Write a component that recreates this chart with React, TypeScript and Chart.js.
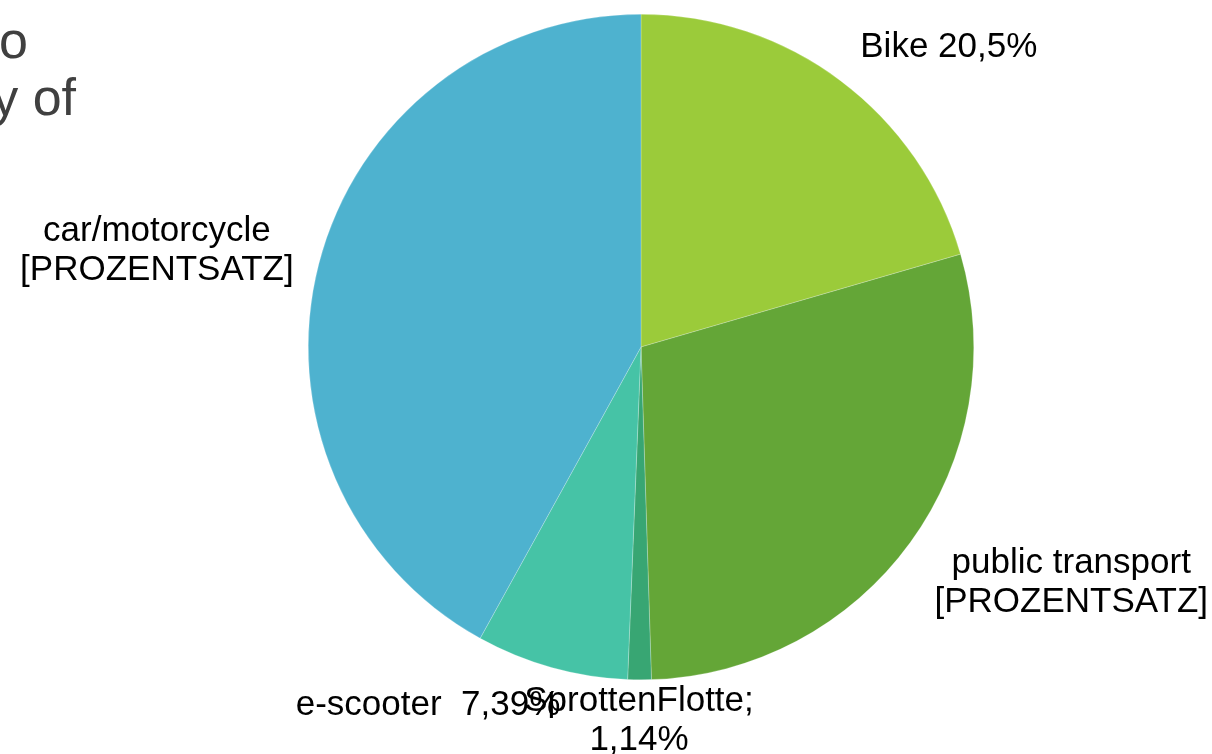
import React, { useEffect, useRef } from "react";
import { Chart, registerables } from "chart.js";

Chart.register(...registerables);

const categories = ["Bike", "public transport", "SprottenFlotte", "e-scooter", "car/motorcycle"];
const shares = [20.5, 29.0, 1.14, 7.39, 41.97];
const sliceLabels: string[][] = [
  ["Bike 20,5%"],
  ["public transport", "[PROZENTSATZ]"],
  ["SprottenFlotte;", "1,14%"],
  ["e-scooter  7,39%"],
  ["car/motorcycle", "[PROZENTSATZ]"],
];
const titleFragments = ["o", "y of"];

const colors = ["#9BCB3A", "#64A637", "#38A673", "#46C3A6", "#4EB2CF"];
// label placement relative to pie centre, in radius units
const labelOffsets = [
  [0.925, -0.9],
  [1.293, 0.709],
  [-0.006, 1.123],
  [-0.64, 1.078],
  [-1.455, -0.288],
];

const FONT = "35px 'Liberation Sans', Arial, sans-serif";
const LINE_H = 39;

const labelPlugin = {
  id: "sliceLabels",
  afterDraw(chart: any) {
    const ctx = chart.ctx;
    const meta = chart.getDatasetMeta(0);
    const arc0 = meta.data[0];
    if (!arc0) return;
    const cx = arc0.x;
    const cy = arc0.y;
    const r = arc0.outerRadius;
    ctx.save();
    ctx.fillStyle = "#000000";
    ctx.font = FONT;
    ctx.textAlign = "center";
    ctx.textBaseline = "middle";
    sliceLabels.forEach((lines, i) => {
      const [fx, fy] = labelOffsets[i];
      const x = cx + fx * r;
      const yc = cy + fy * r;
      const y0 = yc - ((lines.length - 1) * LINE_H) / 2;
      lines.forEach((ln, j) => ctx.fillText(ln, x, y0 + j * LINE_H));
    });
    // clipped title at top-left
    ctx.fillStyle = "#404040";
    ctx.font = "52px 'Liberation Sans', Arial, sans-serif";
    ctx.textAlign = "right";
    ctx.textBaseline = "alphabetic";
    ctx.fillText(titleFragments[0], 28, 58);
    ctx.fillText(titleFragments[1], 76, 115);
    ctx.restore();
  },
};

export default function App() {
  const ref = useRef<HTMLCanvasElement>(null);
  useEffect(() => {
    document.body.style.margin = "0";
    const chart = new Chart(ref.current!, {
      type: "pie",
      data: {
        labels: categories,
        datasets: [
          {
            data: shares,
            backgroundColor: colors,
            borderColor: "rgba(255,255,255,0.45)",
            borderWidth: 0.5,
          },
        ],
      },
      options: {
        responsive: false,
        animation: false,
        layout: { padding: { top: 14, bottom: 74, left: 308, right: 238 } },
        plugins: {
          legend: { display: false },
          tooltip: { enabled: false },
          title: { display: false },
        },
      },
      plugins: [labelPlugin],
    });
    return () => chart.destroy();
  }, []);
  return (
    <div style={{ position: "absolute", left: 0, top: 0, width: 1212, height: 754, background: "#fff" }}>
      <canvas ref={ref} width={1212} height={754} style={{ display: "block" }} />
    </div>
  );
}
